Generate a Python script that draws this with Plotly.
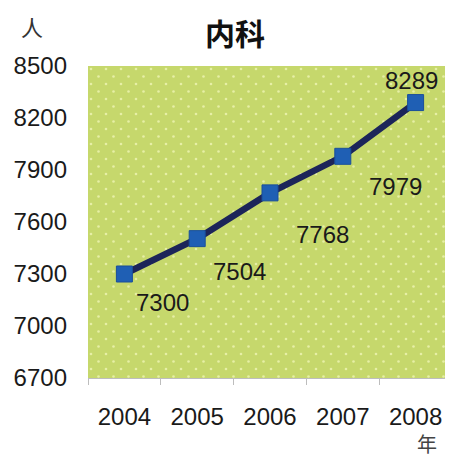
import plotly.graph_objects as go
import base64

years = ["2004", "2005", "2006", "2007", "2008"]
patients = [7300, 7504, 7768, 7979, 8289]
y_ticks = [6700, 7000, 7300, 7600, 7900, 8200, 8500]
label_shift_x = [38, 42, 52, 53, -4]
label_shift_y = [-28, -33, -42, -30, 22]

svg = ('<svg xmlns="http://www.w3.org/2000/svg" width="364" height="312">'
       '<defs><pattern id="p" width="15" height="15" patternUnits="userSpaceOnUse">'
       '<rect width="15" height="15" fill="#c6d86c"/>'
       '<circle cx="3" cy="3" r="1.3" fill="#e6efa6"/>'
       '<circle cx="10.5" cy="10.5" r="1.3" fill="#e6efa6"/>'
       '</pattern></defs><rect width="364" height="312" fill="url(#p)"/></svg>')
src = "data:image/svg+xml;base64," + base64.b64encode(svg.encode()).decode()

fig = go.Figure()
fig.add_trace(go.Scatter(
    x=years, y=patients, mode="lines+markers",
    line=dict(color="#1c2559", width=6.5),
    marker=dict(symbol="square", size=16, color="#1f5fb4",
                line=dict(color="#1a4f9a", width=1)),
    hoverinfo="skip", showlegend=False,
))

for i, (y, dx, dy) in enumerate(zip(patients, label_shift_x, label_shift_y)):
    fig.add_annotation(x=i, y=y, text=str(y), showarrow=False,
                       xshift=dx, yshift=dy,
                       font=dict(size=24, color="#1a1a1a", family="Liberation Sans"))

fig.add_layout_image(dict(source=src, xref="paper", yref="paper", x=0, y=1,
                          sizex=1, sizey=1, sizing="stretch", layer="below",
                          xanchor="left", yanchor="top"))

fig.add_annotation(text="<b>内科</b>", xref="paper", yref="paper", x=0.405, y=1.0,
                   yshift=34, showarrow=False, xanchor="center", yanchor="middle",
                   font=dict(size=30, color="#111", family="Noto Sans CJK SC"))
fig.add_annotation(text="人", xref="paper", yref="paper", x=-0.155, y=1.0,
                   yshift=40, showarrow=False, xanchor="center", yanchor="middle",
                   font=dict(size=22, color="#333", family="Noto Sans CJK SC"))
fig.add_annotation(text="年", xref="paper", yref="paper", x=0.93, y=0.0,
                   yshift=-65, showarrow=False, xanchor="center", yanchor="middle",
                   font=dict(size=20, color="#444", family="Noto Sans CJK SC"))

fig.update_layout(
    width=445, height=450,
    margin=dict(l=80, r=1, t=58, b=80, autoexpand=False),
    paper_bgcolor="white", plot_bgcolor="#c6d86c",
    font=dict(family="Liberation Sans", size=24, color="#1a1a1a"),
)
fig.update_xaxes(type="category", range=[-0.5, 4.5], autorange=False, automargin=False,
                 showgrid=False, zeroline=False,
                 showline=True, linecolor="#bdbdbd", linewidth=1,
                 ticks="outside", tickson="boundaries", ticklen=6, tickcolor="#bdbdbd",
                 ticklabelstandoff=17, tickangle=0, tickfont=dict(size=24))
fig.update_yaxes(range=[6700, 8500], tickvals=y_ticks, showgrid=False, zeroline=False,
                 automargin=False,
                 showline=False, ticks="", ticklabelstandoff=20, tickfont=dict(size=24))

fig.write_html("out.html")
